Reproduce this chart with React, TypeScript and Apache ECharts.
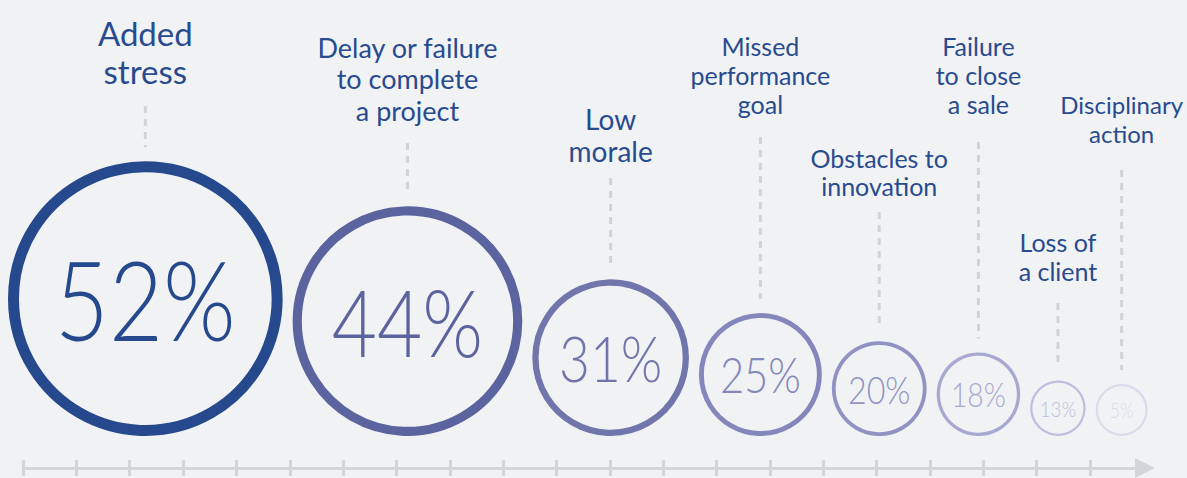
import React, { useEffect, useRef } from "react";
import * as echarts from "echarts";

// ---- data ----
const categories = [
  "Added\nstress",
  "Delay or failure\nto complete\na project",
  "Low\nmorale",
  "Missed\nperformance\ngoal",
  "Obstacles to\ninnovation",
  "Failure\nto close\na sale",
  "Loss of\na client",
  "Disciplinary\naction",
];
const percentages = [52, 44, 31, 25, 20, 18, 13, 5];
const axisTickValues = [0, 1, 2, 3, 4, 5, 6, 7, 8, 9, 10, 11, 12, 13, 14, 15, 16, 17, 18, 19, 20];

// ---- styles & layout ----
const W = 1187;
const H = 478;
const BG = "#f1f2f4";
const circleColors = ["#25498c", "#5b649e", "#7075ab", "#8487bb", "#8f92c3", "#a8a9d1", "#bdbfde", "#dadbec"];
const labelColor = "#284b8f";
const labelFontSizes = [33, 27, 28, 25, 25, 25, 25, 24];
const labelLineHeights = [38, 31.5, 32, 29, 28, 29, 29, 29];
const labelLastLineY = [71, 110, 151, 104, 186, 104, 271, 133];
const leaderTopY = [106, 143, 178, 137, 212, 142, 303, 170];
const firstLeft = 8;
const circleGap = 10;
const circleBaseY = 436;
const axisColor = "#d4d5d8";
const leaderColor = "#d2d3d6";
const axisLeft = 23;
const axisLineEnd = 1145;
const tickSpacing = 53.35;

function diameterFor(v: number) {
  return Math.max(52, 5.62 * v - 17.6);
}

function buildLayout() {
  let x = firstLeft;
  return percentages.map((v) => {
    const d = diameterFor(v);
    const cx = x + d / 2;
    x += d + circleGap;
    return [cx, circleBaseY - d / 2, v, d];
  });
}

export default function App() {
  const ref = useRef<HTMLDivElement>(null);
  useEffect(() => {
    document.body.style.margin = "0";
    document.body.style.background = BG;
    if (!ref.current) return;
    const chart = echarts.init(ref.current, undefined, { renderer: "svg" });
    const layout = buildLayout();
    const maxUnits = (axisLineEnd - axisLeft) / tickSpacing;

    const axisBase = (gridIndex: number, inside: boolean, showLine: boolean) => ({
      gridIndex,
      type: "value",
      min: 0,
      max: maxUnits,
      axisLine: {
        show: showLine,
        onZero: false,
        lineStyle: { color: axisColor, width: 3 },
        symbol: ["none", "triangle"],
        symbolSize: [20, 20],
      },
      axisTick: {
        show: true,
        inside,
        length: 8,
        customValues: axisTickValues,
        lineStyle: { color: axisColor, width: 3 },
      },
      axisLabel: { show: false },
      splitLine: { show: false },
    });

    chart.setOption({
      animation: false,
      backgroundColor: BG,
      grid: [
        { left: 0, right: 0, top: 0, bottom: 0 },
        { left: axisLeft, right: W - axisLineEnd, top: 400, bottom: 10 },
        { left: axisLeft, right: W - axisLineEnd, top: 400, bottom: 10 },
      ],
      xAxis: [
        { gridIndex: 0, type: "value", min: 0, max: W, show: false },
        axisBase(1, false, true),
        axisBase(2, true, false),
      ],
      yAxis: [
        { gridIndex: 0, type: "value", min: 0, max: H, inverse: true, show: false },
        { gridIndex: 1, type: "value", min: 0, max: 1, show: false },
        { gridIndex: 2, type: "value", min: 0, max: 1, show: false },
      ],
      series: [
        {
          type: "custom",
          xAxisIndex: 0,
          yAxisIndex: 0,
          data: layout,
          renderItem: (params: any, api: any) => {
            const i = params.dataIndex;
            const c = api.coord([api.value(0), api.value(1)]);
            const v = api.value(2);
            const d = api.value(3);
            const lw = Math.max(2.2, 0.04 * d);
            const color = circleColors[i];
            const top = c[1] - d / 2;
            const lt = api.coord([0, leaderTopY[i]])[1];
            const textBottom = api.coord([0, labelLastLineY[i] + labelLineHeights[i] / 2])[1];
            return {
              type: "group",
              children: [
                {
                  type: "circle",
                  shape: { cx: c[0], cy: c[1], r: d / 2 - lw / 2 },
                  style: { fill: "none", stroke: color, lineWidth: lw },
                },
                {
                  type: "text",
                  x: c[0],
                  y: c[1],
                  scaleX: 0.85,
                  style: {
                    text: v + "%",
                    fill: color,
                    fontFamily: "Lato",
                    fontWeight: 300,
                    fontSize: 0.4 * d,
                    align: "center",
                    verticalAlign: "middle",
                  },
                },
                {
                  type: "line",
                  shape: { x1: c[0], y1: lt, x2: c[0], y2: top - 14 },
                  style: { stroke: leaderColor, lineWidth: 3, lineDash: [7, 6] },
                },
                {
                  type: "text",
                  x: c[0],
                  y: textBottom,
                  style: {
                    text: categories[i],
                    fill: labelColor,
                    fontFamily: "Lato",
                    fontSize: labelFontSizes[i],
                    lineHeight: labelLineHeights[i],
                    align: "center",
                    verticalAlign: "bottom",
                  },
                },
              ],
            };
          },
        },
      ],
    });
    return () => chart.dispose();
  }, []);
  return <div ref={ref} style={{ width: W, height: H, background: BG }} />;
}
